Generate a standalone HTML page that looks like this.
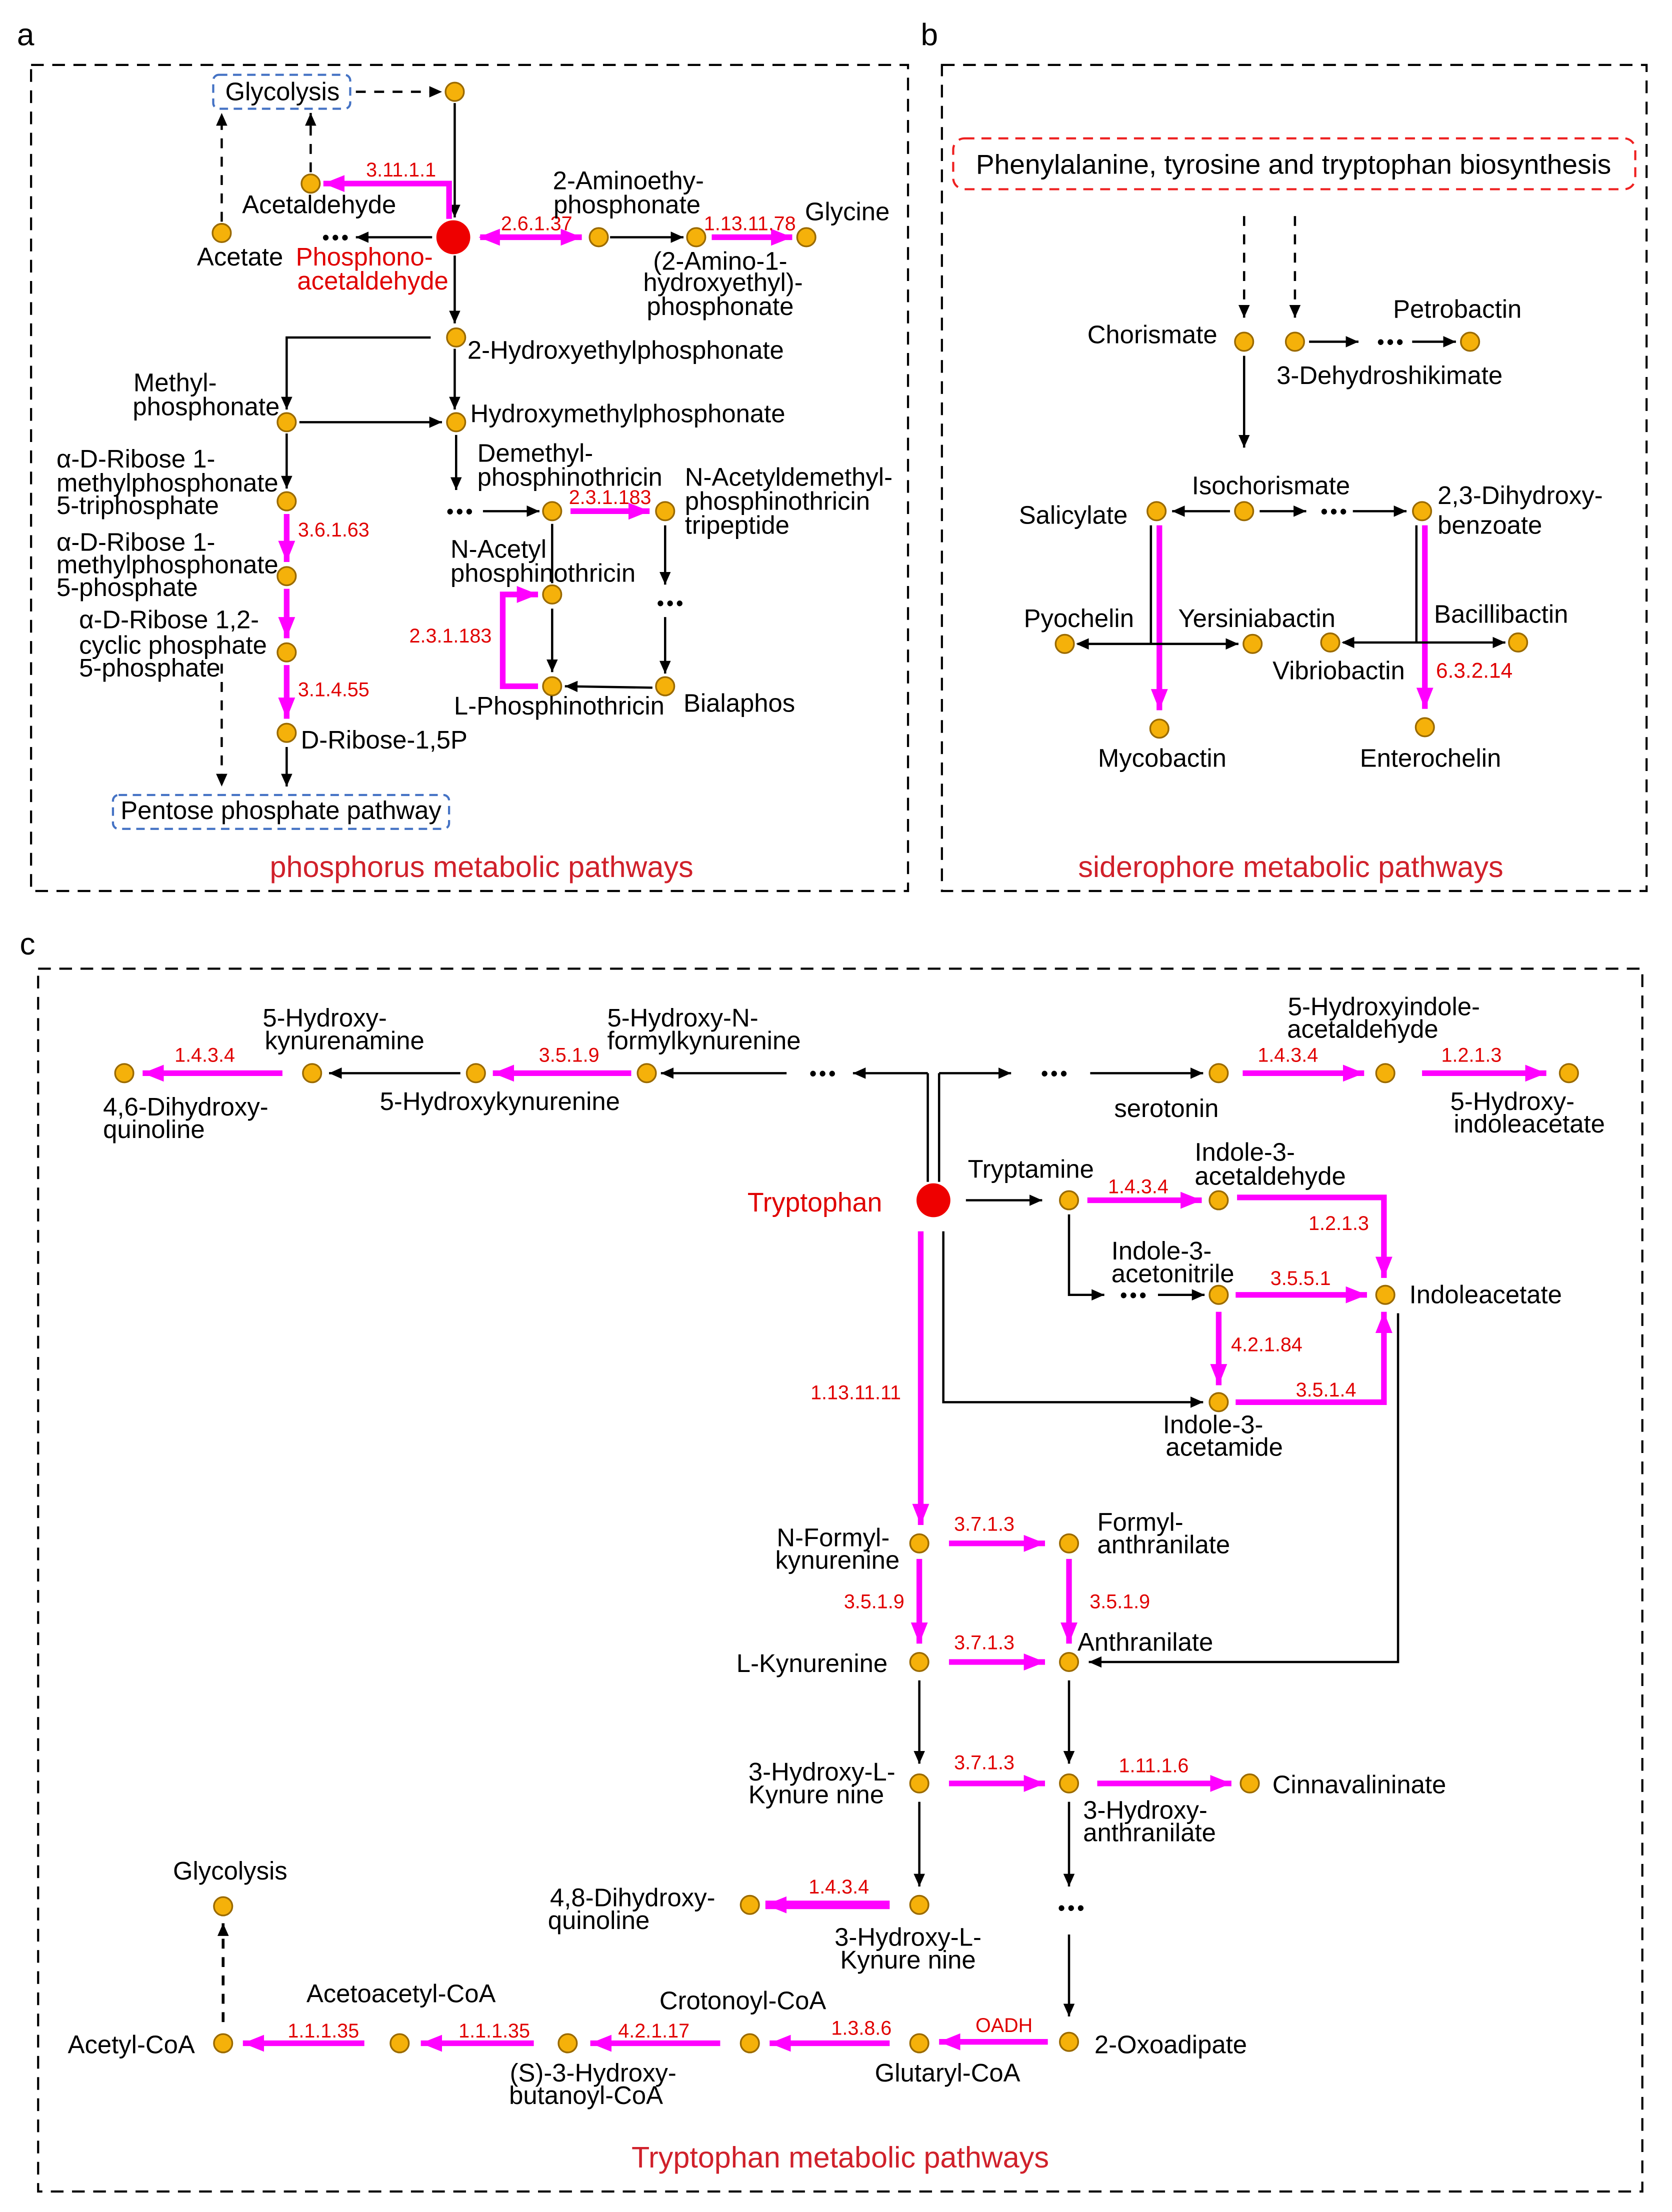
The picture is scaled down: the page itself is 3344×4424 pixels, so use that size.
<!DOCTYPE html>
<html><head><meta charset="utf-8"><style>
html,body{margin:0;padding:0;background:#fff}
svg{display:block}
text{font-family:"Liberation Sans",Arial,sans-serif;fill:#000;font-size:18px}
.r{fill:#e00000;font-size:14px}
.t{fill:#d0202a;font-size:21px}
.rl{fill:#e00000}
.dt{font-size:14px;font-weight:bold;letter-spacing:-1px}
.n{fill:#f5b10a;stroke:#9a6a00;stroke-width:1.2}
.k{stroke:#000;stroke-width:1.6;fill:none}
.m{stroke:#ff00ff;stroke-width:4;fill:none}
.d{stroke:#000;stroke-width:1.6;fill:none;stroke-dasharray:7,6}
.box{fill:none;stroke:#000;stroke-width:1.5;stroke-dasharray:9,6}
</style></head><body>
<svg width="3344" height="4424" viewBox="0 0 1184 1566.5" preserveAspectRatio="none" xmlns="http://www.w3.org/2000/svg">
<defs>
<marker id="ab" markerUnits="userSpaceOnUse" markerWidth="10" markerHeight="10" refX="9" refY="5" orient="auto"><path d="M0,1 L9,5 L0,9 Z" fill="#000"/></marker>
<marker id="abs" markerUnits="userSpaceOnUse" markerWidth="10" markerHeight="10" refX="1" refY="5" orient="auto"><path d="M9,1 L0,5 L9,9 Z" fill="#000"/></marker>
<marker id="am" markerUnits="userSpaceOnUse" markerWidth="16" markerHeight="14" refX="15" refY="7" orient="auto"><path d="M0,1 L15,7 L0,13 Z" fill="#ff00ff"/></marker>
<marker id="ams" markerUnits="userSpaceOnUse" markerWidth="16" markerHeight="14" refX="1" refY="7" orient="auto"><path d="M15,1 L0,7 L15,13 Z" fill="#ff00ff"/></marker>
</defs>
<rect width="1184" height="1566.5" fill="#fff"/>
<text x="12" y="32" style="font-size:22px">a</text>
<text x="652" y="32" style="font-size:22px">b</text>
<text x="14" y="676" style="font-size:22px">c</text>
<rect class="box" x="22" y="46" width="621" height="585"/>
<rect class="box" x="667" y="46" width="499" height="585"/>
<rect class="box" x="27" y="686" width="1136" height="866"/>

<!-- ===== Panel a ===== -->
<rect x="151" y="53" width="97" height="24" rx="4" fill="none" stroke="#4472c4" stroke-width="1.5" stroke-dasharray="6,4"/>
<text x="200" y="71" text-anchor="middle">Glycolysis</text>
<line class="d" x1="252" y1="65" x2="313" y2="65" marker-end="url(#ab)"/>
<circle class="n" cx="322" cy="65" r="6.5"/>
<line class="k" x1="322" y1="73" x2="322" y2="154" marker-end="url(#ab)"/>
<circle cx="321" cy="168" r="12" fill="#ee0000"/>
<polyline class="m" points="318,155 318,130 229,130" marker-end="url(#am)"/>
<text class="r" x="284" y="125" text-anchor="middle">3.11.1.1</text>
<circle class="n" cx="220" cy="130" r="6.5"/>
<text x="226" y="151" text-anchor="middle">Acetaldehyde</text>
<line class="d" x1="220" y1="122" x2="220" y2="80" marker-end="url(#ab)"/>
<circle class="n" cx="157" cy="165" r="6.5"/>
<line class="d" x1="157" y1="157" x2="157" y2="80" marker-end="url(#ab)"/>
<text class="dt" x="237" y="173" text-anchor="middle">• • •</text>
<line class="k" x1="306" y1="168" x2="252" y2="168" marker-end="url(#ab)"/>
<text x="170" y="188" text-anchor="middle">Acetate</text>
<text class="rl" x="258" y="188" text-anchor="middle">Phosphono-</text>
<text class="rl" x="264" y="205" text-anchor="middle">acetaldehyde</text>
<line class="m" x1="340" y1="168" x2="412" y2="168" marker-start="url(#ams)" marker-end="url(#am)"/>
<text class="r" x="380" y="163" text-anchor="middle">2.6.1.37</text>
<circle class="n" cx="424" cy="168" r="6.5"/>
<text x="445" y="134" text-anchor="middle">2-Aminoethy-</text>
<text x="444" y="151" text-anchor="middle">phosphonate</text>
<line class="k" x1="432" y1="168" x2="484" y2="168" marker-end="url(#ab)"/>
<circle class="n" cx="493" cy="168" r="6.5"/>
<line class="m" x1="504" y1="168" x2="561" y2="168" marker-end="url(#am)"/>
<text class="r" x="531" y="163" text-anchor="middle">1.13.11.78</text>
<circle class="n" cx="571" cy="168" r="6.5"/>
<text x="600" y="156" text-anchor="middle">Glycine</text>
<text x="510" y="191" text-anchor="middle">(2-Amino-1-</text>
<text x="512" y="206" text-anchor="middle">hydroxyethyl)-</text>
<text x="510" y="223" text-anchor="middle">phosphonate</text>
<line class="k" x1="322" y1="181" x2="322" y2="229" marker-end="url(#ab)"/>
<circle class="n" cx="323" cy="239" r="6.5"/>
<text x="331" y="254">2-Hydroxyethylphosphonate</text>
<polyline class="k" points="305,239 203,239 203,290" marker-end="url(#ab)"/>
<circle class="n" cx="203" cy="299" r="6.5"/>
<text x="124" y="277" text-anchor="middle">Methyl-</text>
<text x="146" y="294" text-anchor="middle">phosphonate</text>
<line class="k" x1="322" y1="247" x2="322" y2="290" marker-end="url(#ab)"/>
<circle class="n" cx="323" cy="299" r="6.5"/>
<text x="333" y="299">Hydroxymethylphosphonate</text>
<line class="k" x1="212" y1="299" x2="313" y2="299" marker-end="url(#ab)"/>
<line class="k" x1="323" y1="308" x2="323" y2="347" marker-end="url(#ab)"/>
<text class="dt" x="325" y="367" text-anchor="middle">• • •</text>
<line class="k" x1="342" y1="362" x2="382" y2="362" marker-end="url(#ab)"/>
<circle class="n" cx="391" cy="362" r="6.5"/>
<line class="m" x1="404" y1="362" x2="460" y2="362" marker-end="url(#am)"/>
<text class="r" x="432" y="357" text-anchor="middle">2.3.1.183</text>
<circle class="n" cx="471" cy="362" r="6.5"/>
<text x="338" y="327">Demethyl-</text>
<text x="338" y="344">phosphinothricin</text>
<text x="485" y="344">N-Acetyldemethyl-</text>
<text x="485" y="361">phosphinothricin</text>
<text x="485" y="378">tripeptide</text>
<line class="k" x1="471" y1="372" x2="471" y2="414" marker-end="url(#ab)"/>
<text class="dt" x="474" y="432" text-anchor="middle">• • •</text>
<line class="k" x1="471" y1="437" x2="471" y2="477" marker-end="url(#ab)"/>
<circle class="n" cx="471" cy="486" r="6.5"/>
<text x="484" y="504">Bialaphos</text>
<line class="k" x1="462" y1="487" x2="400" y2="486" marker-end="url(#ab)"/>
<circle class="n" cx="391" cy="486" r="6.5"/>
<text x="396" y="506" text-anchor="middle">L-Phosphinothricin</text>
<line class="k" x1="391" y1="371" x2="391" y2="413"/>
<circle class="n" cx="391" cy="421" r="6.5"/>
<text x="319" y="395">N-Acetyl</text>
<text x="319" y="412">phosphinothricin</text>
<line class="k" x1="391" y1="431" x2="391" y2="476" marker-end="url(#ab)"/>
<polyline class="m" points="381,486 356,486 356,421 381,421" marker-end="url(#am)"/>
<text class="r" x="319" y="455" text-anchor="middle">2.3.1.183</text>
<line class="k" x1="203" y1="307" x2="203" y2="346" marker-end="url(#ab)"/>
<circle class="n" cx="203" cy="355" r="6.5"/>
<text x="40" y="331">α-D-Ribose 1-</text>
<text x="40" y="348">methylphosphonate</text>
<text x="40" y="364">5-triphosphate</text>
<line class="m" x1="203" y1="364" x2="203" y2="398" marker-end="url(#am)"/>
<text class="r" x="211" y="380">3.6.1.63</text>
<circle class="n" cx="203" cy="408" r="6.5"/>
<text x="40" y="390">α-D-Ribose 1-</text>
<text x="40" y="406">methylphosphonate</text>
<text x="40" y="422">5-phosphate</text>
<line class="m" x1="203" y1="417" x2="203" y2="452" marker-end="url(#am)"/>
<circle class="n" cx="203" cy="462" r="6.5"/>
<text x="56" y="445">α-D-Ribose 1,2-</text>
<text x="56" y="463">cyclic phosphate</text>
<text x="56" y="479">5-phosphate</text>
<line class="m" x1="203" y1="471" x2="203" y2="509" marker-end="url(#am)"/>
<text class="r" x="211" y="493">3.1.4.55</text>
<circle class="n" cx="203" cy="519" r="6.5"/>
<text x="213" y="530">D-Ribose-1,5P</text>
<line class="k" x1="203" y1="529" x2="203" y2="557" marker-end="url(#ab)"/>
<line class="d" x1="157" y1="470" x2="157" y2="557" marker-end="url(#ab)"/>
<rect x="80" y="563" width="238" height="24" rx="4" fill="none" stroke="#4472c4" stroke-width="1.5" stroke-dasharray="6,4"/>
<text x="199" y="580" text-anchor="middle">Pentose phosphate pathway</text>
<text class="t" x="341" y="621" text-anchor="middle">phosphorus metabolic pathways</text>

<!-- ===== Panel b ===== -->
<rect x="675" y="98" width="483" height="36" rx="8" fill="none" stroke="#ee2020" stroke-width="1.5" stroke-dasharray="7,5"/>
<text x="916" y="123" text-anchor="middle" style="font-size:19.5px">Phenylalanine, tyrosine and tryptophan biosynthesis</text>
<line class="d" x1="881" y1="153" x2="881" y2="225" marker-end="url(#ab)"/>
<line class="d" x1="917" y1="153" x2="917" y2="225" marker-end="url(#ab)"/>
<circle class="n" cx="881" cy="242" r="6.5"/>
<circle class="n" cx="917" cy="242" r="6.5"/>
<text x="816" y="243" text-anchor="middle">Chorismate</text>
<text x="984" y="272" text-anchor="middle">3-Dehydroshikimate</text>
<text x="1032" y="225" text-anchor="middle">Petrobactin</text>
<line class="k" x1="927" y1="242" x2="962" y2="242" marker-end="url(#ab)"/>
<text class="dt" x="984" y="247" text-anchor="middle">• • •</text>
<line class="k" x1="1000" y1="242" x2="1031" y2="242" marker-end="url(#ab)"/>
<circle class="n" cx="1041" cy="242" r="6.5"/>
<line class="k" x1="881" y1="252" x2="881" y2="317" marker-end="url(#ab)"/>
<circle class="n" cx="881" cy="362" r="6.5"/>
<text x="900" y="350" text-anchor="middle">Isochorismate</text>
<line class="k" x1="871" y1="362" x2="830" y2="362" marker-end="url(#ab)"/>
<circle class="n" cx="819" cy="362" r="6.5"/>
<text x="760" y="371" text-anchor="middle">Salicylate</text>
<line class="k" x1="892" y1="362" x2="925" y2="362" marker-end="url(#ab)"/>
<text class="dt" x="944" y="367" text-anchor="middle">• • •</text>
<line class="k" x1="958" y1="362" x2="996" y2="362" marker-end="url(#ab)"/>
<circle class="n" cx="1007" cy="362" r="6.5"/>
<text x="1018" y="357">2,3-Dihydroxy-</text>
<text x="1018" y="378">benzoate</text>
<line class="k" x1="815" y1="372" x2="815" y2="456"/>
<line class="m" x1="821" y1="372" x2="821" y2="503" marker-end="url(#am)"/>
<line class="k" x1="763" y1="456" x2="877" y2="456" marker-start="url(#abs)" marker-end="url(#ab)"/>
<circle class="n" cx="754" cy="456" r="6.5"/>
<circle class="n" cx="887" cy="456" r="6.5"/>
<circle class="n" cx="821" cy="516" r="6.5"/>
<text x="764" y="444" text-anchor="middle">Pyochelin</text>
<text x="890" y="444" text-anchor="middle">Yersiniabactin</text>
<text x="823" y="543" text-anchor="middle">Mycobactin</text>
<line class="k" x1="1003" y1="372" x2="1003" y2="455"/>
<line class="m" x1="1009" y1="372" x2="1009" y2="502" marker-end="url(#am)"/>
<line class="k" x1="951" y1="455" x2="1066" y2="455" marker-start="url(#abs)" marker-end="url(#ab)"/>
<circle class="n" cx="942" cy="455" r="6.5"/>
<circle class="n" cx="1075" cy="455" r="6.5"/>
<circle class="n" cx="1009" cy="515" r="6.5"/>
<text x="1063" y="441" text-anchor="middle">Bacillibactin</text>
<text x="948" y="481" text-anchor="middle">Vibriobactin</text>
<text class="r" x="1044" y="480" text-anchor="middle" style="font-size:15px">6.3.2.14</text>
<text x="1013" y="543" text-anchor="middle">Enterochelin</text>
<text class="t" x="914" y="621" text-anchor="middle">siderophore metabolic pathways</text>

<!-- ===== Panel c ===== -->
<circle cx="661" cy="850" r="12" fill="#ee0000"/>
<text class="rl" x="577" y="858" text-anchor="middle" style="font-size:19px">Tryptophan</text>
<line class="k" x1="657" y1="837" x2="657" y2="760"/>
<line class="k" x1="665" y1="837" x2="665" y2="760"/>
<line class="k" x1="657" y1="760" x2="604" y2="760" marker-end="url(#ab)"/>
<text class="dt" x="582" y="765" text-anchor="middle">• • •</text>
<line class="k" x1="557" y1="760" x2="468" y2="760" marker-end="url(#ab)"/>
<line class="k" x1="665" y1="760" x2="716" y2="760" marker-end="url(#ab)"/>
<text class="dt" x="746" y="765" text-anchor="middle">• • •</text>
<line class="k" x1="772" y1="760" x2="852" y2="760" marker-end="url(#ab)"/>
<circle class="n" cx="458" cy="760" r="6.5"/>
<line class="m" x1="447" y1="760" x2="349" y2="760" marker-end="url(#am)"/>
<text class="r" x="403" y="752" text-anchor="middle">3.5.1.9</text>
<circle class="n" cx="337" cy="760" r="6.5"/>
<line class="k" x1="326" y1="760" x2="233" y2="760" marker-end="url(#ab)"/>
<circle class="n" cx="221" cy="760" r="6.5"/>
<line class="m" x1="200" y1="760" x2="101" y2="760" marker-end="url(#am)"/>
<text class="r" x="145" y="752" text-anchor="middle">1.4.3.4</text>
<circle class="n" cx="88" cy="760" r="6.5"/>
<text x="230" y="727" text-anchor="middle">5-Hydroxy-</text>
<text x="244" y="743" text-anchor="middle">kynurenamine</text>
<text x="354" y="786" text-anchor="middle">5-Hydroxykynurenine</text>
<text x="430" y="727">5-Hydroxy-N-</text>
<text x="430" y="743">formylkynurenine</text>
<text x="73" y="790">4,6-Dihydroxy-</text>
<text x="73" y="806">quinoline</text>
<circle class="n" cx="863" cy="760" r="6.5"/>
<line class="m" x1="880" y1="760" x2="966" y2="760" marker-end="url(#am)"/>
<text class="r" x="912" y="752" text-anchor="middle">1.4.3.4</text>
<circle class="n" cx="981" cy="760" r="6.5"/>
<line class="m" x1="1007" y1="760" x2="1095" y2="760" marker-end="url(#am)"/>
<text class="r" x="1042" y="752" text-anchor="middle">1.2.1.3</text>
<circle class="n" cx="1111" cy="760" r="6.5"/>
<text x="826" y="791" text-anchor="middle">serotonin</text>
<text x="980" y="719" text-anchor="middle">5-Hydroxyindole-</text>
<text x="965" y="735" text-anchor="middle">acetaldehyde</text>
<text x="1071" y="786" text-anchor="middle">5-Hydroxy-</text>
<text x="1083" y="802" text-anchor="middle">indoleacetate</text>
<line class="k" x1="684" y1="850" x2="738" y2="850" marker-end="url(#ab)"/>
<circle class="n" cx="757" cy="850" r="6.5"/>
<text x="730" y="834" text-anchor="middle">Tryptamine</text>
<line class="m" x1="770" y1="850" x2="851" y2="850" marker-end="url(#am)"/>
<text class="r" x="806" y="845" text-anchor="middle">1.4.3.4</text>
<circle class="n" cx="863" cy="850" r="6.5"/>
<text x="846" y="822">Indole-3-</text>
<text x="846" y="839">acetaldehyde</text>
<polyline class="m" points="876,848 980,848 980,905" marker-end="url(#am)"/>
<text class="r" x="948" y="871" text-anchor="middle">1.2.1.3</text>
<circle class="n" cx="981" cy="917" r="6.5"/>
<text x="998" y="923">Indoleacetate</text>
<polyline class="k" points="757,860 757,917 782,917" marker-end="url(#ab)"/>
<text class="dt" x="802" y="922" text-anchor="middle">• • •</text>
<line class="k" x1="820" y1="917" x2="853" y2="917" marker-end="url(#ab)"/>
<circle class="n" cx="863" cy="917" r="6.5"/>
<text x="787" y="892">Indole-3-</text>
<text x="787" y="908">acetonitrile</text>
<line class="m" x1="875" y1="917" x2="968" y2="917" marker-end="url(#am)"/>
<text class="r" x="921" y="910" text-anchor="middle">3.5.5.1</text>
<line class="m" x1="863" y1="929" x2="863" y2="981" marker-end="url(#am)"/>
<text class="r" x="897" y="957" text-anchor="middle">4.2.1.84</text>
<circle class="n" cx="863" cy="993" r="6.5"/>
<text x="859" y="1015" text-anchor="middle">Indole-3-</text>
<text x="867" y="1031" text-anchor="middle">acetamide</text>
<polyline class="m" points="875,993 980,993 980,929" marker-end="url(#am)"/>
<text class="r" x="939" y="989" text-anchor="middle">3.5.1.4</text>
<polyline class="k" points="668,872 668,993 852,993" marker-end="url(#ab)"/>
<line class="m" x1="652" y1="872" x2="652" y2="1080" marker-end="url(#am)"/>
<text class="r" x="606" y="991" text-anchor="middle">1.13.11.11</text>
<polyline class="k" points="990,930 990,1177 771,1177" marker-end="url(#ab)"/>
<circle class="n" cx="651" cy="1093" r="6.5"/>
<text x="590" y="1095" text-anchor="middle">N-Formyl-</text>
<text x="593" y="1111" text-anchor="middle">kynurenine</text>
<line class="m" x1="672" y1="1093" x2="740" y2="1093" marker-end="url(#am)"/>
<text class="r" x="697" y="1084" text-anchor="middle">3.7.1.3</text>
<circle class="n" cx="757" cy="1093" r="6.5"/>
<text x="777" y="1084">Formyl-</text>
<text x="777" y="1100">anthranilate</text>
<line class="m" x1="757" y1="1104" x2="757" y2="1164" marker-end="url(#am)"/>
<text class="r" x="793" y="1139" text-anchor="middle">3.5.1.9</text>
<line class="m" x1="651" y1="1104" x2="651" y2="1164" marker-end="url(#am)"/>
<text class="r" x="619" y="1139" text-anchor="middle">3.5.1.9</text>
<circle class="n" cx="651" cy="1177" r="6.5"/>
<text x="575" y="1184" text-anchor="middle">L-Kynurenine</text>
<line class="m" x1="672" y1="1177" x2="740" y2="1177" marker-end="url(#am)"/>
<text class="r" x="697" y="1168" text-anchor="middle">3.7.1.3</text>
<circle class="n" cx="757" cy="1177" r="6.5"/>
<text x="763" y="1169">Anthranilate</text>
<line class="k" x1="651" y1="1190" x2="651" y2="1249" marker-end="url(#ab)"/>
<circle class="n" cx="651" cy="1263" r="6.5"/>
<text x="582" y="1261" text-anchor="middle">3-Hydroxy-L-</text>
<text x="578" y="1277" text-anchor="middle">Kynure nine</text>
<line class="m" x1="672" y1="1263" x2="740" y2="1263" marker-end="url(#am)"/>
<text class="r" x="697" y="1253" text-anchor="middle">3.7.1.3</text>
<line class="k" x1="757" y1="1190" x2="757" y2="1249" marker-end="url(#ab)"/>
<circle class="n" cx="757" cy="1263" r="6.5"/>
<line class="m" x1="777" y1="1263" x2="872" y2="1263" marker-end="url(#am)"/>
<text class="r" x="817" y="1255" text-anchor="middle">1.11.1.6</text>
<circle class="n" cx="885" cy="1263" r="6.5"/>
<text x="901" y="1270">Cinnavalininate</text>
<text x="767" y="1288">3-Hydroxy-</text>
<text x="767" y="1304">anthranilate</text>
<line class="k" x1="757" y1="1276" x2="757" y2="1336" marker-end="url(#ab)"/>
<text class="dt" x="758" y="1356" text-anchor="middle">• • •</text>
<line class="k" x1="757" y1="1370" x2="757" y2="1428" marker-end="url(#ab)"/>
<circle class="n" cx="757" cy="1446" r="6.5"/>
<text x="775" y="1454">2-Oxoadipate</text>
<line class="k" x1="651" y1="1276" x2="651" y2="1336" marker-end="url(#ab)"/>
<circle class="n" cx="651" cy="1349" r="6.5"/>
<text x="643" y="1378" text-anchor="middle">3-Hydroxy-L-</text>
<text x="643" y="1394" text-anchor="middle">Kynure nine</text>
<line class="m" x1="630" y1="1349" x2="542" y2="1349" marker-end="url(#am)" style="stroke-width:6"/>
<text class="r" x="594" y="1341" text-anchor="middle">1.4.3.4</text>
<circle class="n" cx="531" cy="1349" r="6.5"/>
<text x="448" y="1350" text-anchor="middle">4,8-Dihydroxy-</text>
<text x="424" y="1366" text-anchor="middle">quinoline</text>
<line class="m" x1="742" y1="1446" x2="665" y2="1446" marker-end="url(#am)"/>
<text class="r" x="711" y="1439" text-anchor="middle">OADH</text>
<circle class="n" cx="651" cy="1447" r="6.5"/>
<text x="671" y="1474" text-anchor="middle">Glutaryl-CoA</text>
<text x="526" y="1423" text-anchor="middle">Crotonoyl-CoA</text>
<line class="m" x1="630" y1="1447" x2="545" y2="1447" marker-end="url(#am)"/>
<text class="r" x="610" y="1441" text-anchor="middle">1.3.8.6</text>
<circle class="n" cx="531" cy="1447" r="6.5"/>
<line class="m" x1="510" y1="1447" x2="418" y2="1447" marker-end="url(#am)"/>
<text class="r" x="463" y="1443" text-anchor="middle">4.2.1.17</text>
<circle class="n" cx="402" cy="1447" r="6.5"/>
<text x="420" y="1474" text-anchor="middle">(S)-3-Hydroxy-</text>
<text x="415" y="1490" text-anchor="middle">butanoyl-CoA</text>
<line class="m" x1="378" y1="1447" x2="298" y2="1447" marker-end="url(#am)"/>
<text class="r" x="350" y="1443" text-anchor="middle">1.1.1.35</text>
<circle class="n" cx="283" cy="1447" r="6.5"/>
<text x="284" y="1418" text-anchor="middle">Acetoacetyl-CoA</text>
<line class="m" x1="258" y1="1447" x2="172" y2="1447" marker-end="url(#am)"/>
<text class="r" x="229" y="1443" text-anchor="middle">1.1.1.35</text>
<circle class="n" cx="158" cy="1447" r="6.5"/>
<text x="93" y="1454" text-anchor="middle">Acetyl-CoA</text>
<line class="d" x1="158" y1="1432" x2="158" y2="1362" marker-end="url(#ab)" style="stroke-width:2"/>
<circle class="n" cx="158" cy="1350" r="6.5"/>
<text x="163" y="1331" text-anchor="middle">Glycolysis</text>
<text class="t" x="595" y="1535" text-anchor="middle">Tryptophan metabolic pathways</text>
</svg>
</body></html>
